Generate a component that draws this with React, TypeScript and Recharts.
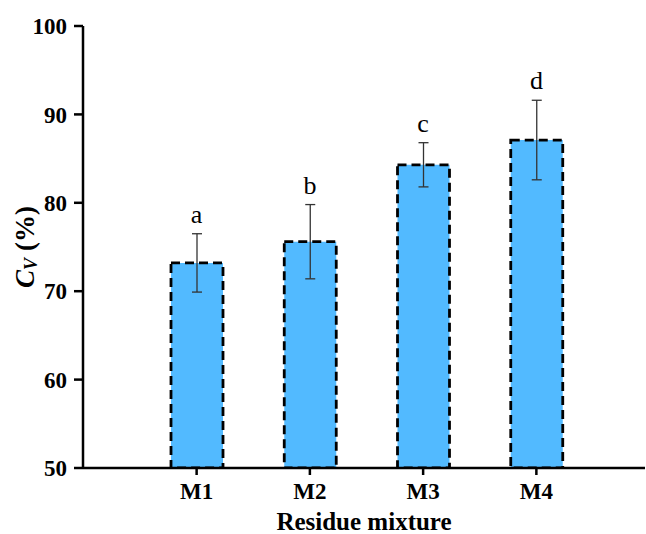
import { Bar, ComposedChart, ErrorBar, LabelList, Line, XAxis, YAxis } from "recharts"

const mixtures = ["M1", "M2", "M3", "M4"]
const cvMean = [73.2, 75.6, 84.3, 87.1]
const cvErr = [3.3, 4.2, 2.5, 4.5]
const groups = ["a", "b", "c", "d"]
const yTicks = [50, 60, 70, 80, 90, 100]

const data = mixtures.map((name, i) => ({
  name,
  cv: cvMean[i],
  err: cvErr[i],
  top: cvMean[i] + cvErr[i],
  letter: groups[i],
}))

const serif = "'Liberation Serif', 'Times New Roman', serif"
const tickStyle = { fill: "#000", fontFamily: serif, fontWeight: "bold", fontSize: 23 }

function YTitle(props: any) {
  const vb = props.viewBox
  const cx = vb.x + 25
  const cy = vb.y + vb.height / 2
  return (
    <text
      x={cx}
      y={cy}
      transform={`rotate(-90, ${cx}, ${cy})`}
      textAnchor="middle"
      dominantBaseline="central"
      fontFamily={serif}
      fontWeight="bold"
      fontSize={27}
      fill="#000"
    >
      <tspan fontStyle="italic">C</tspan>
      <tspan fontStyle="italic" fontSize={18} dy={6}>V</tspan>
      <tspan dy={-6}> (%)</tspan>
    </text>
  )
}

export default function App() {
  return (
    <div style={{ position: "absolute", left: 0, top: 0, background: "#fff" }}>
      <ComposedChart width={646} height={534} data={data} margin={{ top: 26, right: 1, bottom: 0, left: 0 }}>
        <XAxis
          dataKey="name"
          height={66}
          padding={{ left: 57, right: 52 }}
          stroke="#000"
          strokeWidth={2.5}
          tickSize={7}
          tickMargin={8}
          fontSize={23}
          fontFamily={serif}
          fontWeight="bold"
          tick={tickStyle}
          label={{
            value: "Residue mixture",
            position: "insideBottom",
            offset: 4,
            fill: "#000",
            fontFamily: serif,
            fontWeight: "bold",
            fontSize: 25,
          }}
        />
        <YAxis
          width={83}
          domain={[50, 100]}
          ticks={yTicks}
          allowDataOverflow
          stroke="#000"
          strokeWidth={2.5}
          tickSize={9}
          tickMargin={7}
          fontSize={23}
          fontFamily={serif}
          fontWeight="bold"
          tick={tickStyle}
          label={<YTitle />}
        />
        <Bar
          dataKey="cv"
          barSize={52}
          fill="#52BAFF"
          stroke="#000"
          strokeWidth={2.8}
          strokeDasharray="9 5"
          isAnimationActive={false}
        >
          <ErrorBar dataKey="err" direction="y" width={5} stroke="#333" strokeWidth={1.3} />
        </Bar>
        <Line
          dataKey="top"
          stroke="none"
          dot={false}
          activeDot={false}
          legendType="none"
          isAnimationActive={false}
        >
          <LabelList
            dataKey="letter"
            position="top"
            offset={11}
            fill="#000"
            fontFamily={serif}
            fontSize={26}
          />
        </Line>
      </ComposedChart>
    </div>
  )
}
